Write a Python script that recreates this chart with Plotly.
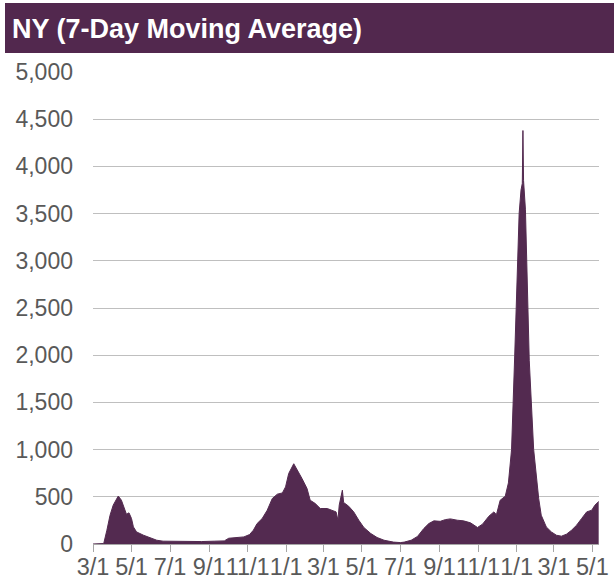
import plotly.graph_objects as go

# 7-day moving average readings (date, value)
dates = [
    "2020-03-01", "2020-03-16", "2020-03-18", "2020-03-23", "2020-03-28", "2020-04-02",
    "2020-04-07", "2020-04-10", "2020-04-15", "2020-04-20", "2020-04-23", "2020-04-27",
    "2020-05-01", "2020-05-04", "2020-05-09", "2020-05-20", "2020-05-31", "2020-06-10",
    "2020-06-20", "2020-07-10", "2020-08-01", "2020-08-20", "2020-09-10", "2020-09-25",
    "2020-10-02", "2020-10-15", "2020-10-26", "2020-11-04", "2020-11-10", "2020-11-16",
    "2020-11-24", "2020-12-02", "2020-12-10", "2020-12-18", "2020-12-26", "2020-12-31",
    "2021-01-05", "2021-01-13", "2021-01-19", "2021-01-26", "2021-02-03", "2021-02-08",
    "2021-02-16", "2021-02-24", "2021-03-07", "2021-03-15", "2021-03-21", "2021-03-24",
    "2021-03-26", "2021-03-31", "2021-04-02", "2021-04-10", "2021-04-18", "2021-04-26",
    "2021-05-04", "2021-05-15", "2021-05-25", "2021-06-05", "2021-06-20", "2021-07-01",
    "2021-07-07", "2021-07-18", "2021-07-28", "2021-08-07", "2021-08-15", "2021-08-23",
    "2021-09-02", "2021-09-10", "2021-09-18", "2021-09-29", "2021-10-09", "2021-10-20",
    "2021-10-31", "2021-11-08", "2021-11-18", "2021-11-26", "2021-11-30", "2021-12-06",
    "2021-12-14", "2021-12-19", "2021-12-24", "2021-12-29", "2022-01-02", "2022-01-05",
    "2022-01-08", "2022-01-10", "2022-01-11", "2022-01-12", "2022-01-15", "2022-01-18",
    "2022-01-21", "2022-01-28", "2022-02-01", "2022-02-05", "2022-02-09", "2022-02-17",
    "2022-02-25", "2022-03-05", "2022-03-13", "2022-03-21", "2022-03-29", "2022-04-06",
    "2022-04-14", "2022-04-22", "2022-04-30", "2022-05-05", "2022-05-11",
]
values = [
    0, 0, 5, 146, 305, 411,
    482, 508, 464, 376, 315, 330,
    270, 181, 128, 93, 69, 40,
    30, 27, 28, 26, 30, 33,
    61, 67, 75, 100, 146, 217,
    270, 358, 482, 528, 541, 605,
    747, 850, 782, 694, 588, 464,
    429, 376, 376, 358, 340, 252,
    411, 570, 440, 400, 340, 252,
    175, 111, 69, 40, 20, 15,
    20, 40, 80, 164, 217, 245,
    240, 258, 266, 252, 245, 224,
    175, 210, 294, 340, 310, 464,
    506, 647, 1000, 2000, 3000, 3500,
    3750, 3820, 4380, 3850, 3540, 2830,
    1947, 1000, 700, 480, 305, 181,
    128, 93, 83, 104, 146, 199,
    270, 340, 358, 411, 450,
]

title_text = "NY (7-Day Moving Average)"
y_ticks = [0, 500, 1000, 1500, 2000, 2500, 3000, 3500, 4000, 4500, 5000]

PURPLE = "#532a50"
GRAY_TXT = "#595959"
FONT = "Liberation Sans, Arial, sans-serif"

L, R, T, B = 93, 15, 72, 37
W, H = 614, 581
PW, PH = W - L - R, H - T - B

def px_x(x):
    return (x - L) / PW

def px_y(y):
    return (H - B - y) / PH

fig = go.Figure()
fig.add_trace(go.Scatter(
    x=dates, y=values, mode="lines", fill="tozeroy",
    line=dict(color=PURPLE, width=1), fillcolor=PURPLE,
    hoverinfo="x+y", showlegend=False,
))

fig.update_layout(
    width=W, height=H,
    margin=dict(l=L, r=R, t=T, b=B, autoexpand=False),
    paper_bgcolor="white", plot_bgcolor="white",
    font=dict(family=FONT, color=GRAY_TXT, size=22),
    shapes=[dict(type="rect", xref="paper", yref="paper",
                 x0=px_x(5), x1=px_x(616), y0=px_y(53), y1=px_y(3),
                 fillcolor="#52284e", line=dict(width=0), layer="above")],
    annotations=[dict(text="<b>" + title_text + "</b>", xref="paper", yref="paper",
                      x=px_x(10), y=px_y(29), xanchor="left", yanchor="middle",
                      showarrow=False, font=dict(family=FONT, size=27, color="white"))],
)

fig.update_xaxes(
    type="date", range=["2020-03-01", "2022-05-11 12:00"],
    tick0="2020-03-01", dtick="M2", tickformat="%-m/%-d", tickangle=0,
    ticks="outside", ticklen=7, tickcolor="#a6a6a6",
    showline=True, linecolor="#a6a6a6", linewidth=1,
    showgrid=False, zeroline=False, automargin=False, ticklabelstandoff=-5,
    tickfont=dict(family=FONT, size=23.5, color=GRAY_TXT),
)
fig.update_yaxes(
    range=[0, 5000], tickvals=y_ticks, tickformat=",",
    showgrid=True, gridcolor="#bfbfbf", gridwidth=1,
    zeroline=False, ticks="", ticklabelstandoff=19, automargin=False,
    tickfont=dict(family=FONT, size=23, color=GRAY_TXT),
)

fig.write_html(
    "out.html",
    config={"displayModeBar": False},
    post_script="document.body.style.margin='0';document.body.style.overflow='hidden';",
)
